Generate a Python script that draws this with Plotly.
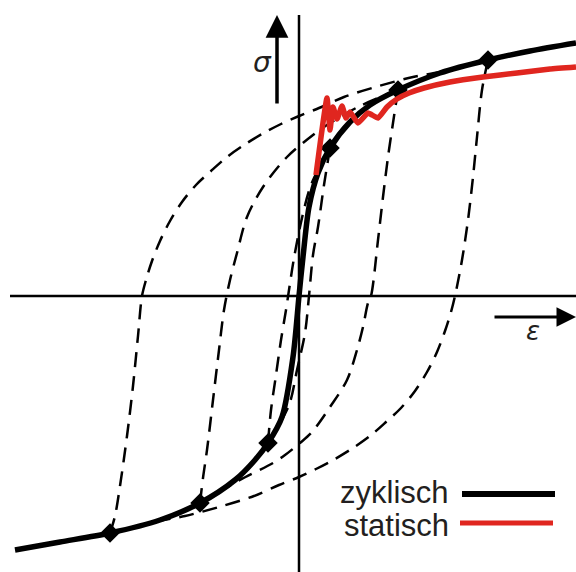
import plotly.graph_objects as go

# Cyclic stress-strain curve (strain eps, stress sigma; arbitrary units, origin at axis crossing)
cyc_eps = [-284, -239, -189, -139, -99, -64, -44, -31, -17, -6, 0, 4, 10, 19, 31, 51, 71, 99, 141, 189, 231, 277]
cyc_sig = [-254, -246, -237, -224, -207, -184, -164, -147, -121, -61, 0, 39, 89, 123, 148, 174, 191, 206, 223, 236, 245, 253]

# Monotonic (static) tensile curve with upper/lower yield point
stat_eps = [17, 28, 31, 34, 38, 43, 47, 51, 59, 69, 79, 88, 98, 110, 125, 151, 184, 218, 251, 277]
stat_sig = [121, 198, 166, 189, 177, 190, 178, 184, 173, 183, 178, 189, 197, 203, 208, 214, 219, 223, 227, 229]

# Stabilised hysteresis loops: tips, loading (up) and unloading (down) branches
tip_eps = [31, 99, 189, -31, -99, -189]
tip_sig = [148, 206, 236, -147, -207, -237]

loop1_up_eps = [-189, -184, -179, -172, -166, -161, -157, -153, -147, -139, -129, -117, -103, -88, -72, -55, -37, -18, 0, 20, 45, 80, 114, 141, 189]
loop1_up_sig = [-237, -220, -190, -140, -90, -40, 0, 16, 35, 55, 75, 94, 111, 125, 139, 151, 162, 172, 180, 188, 199, 210, 219, 224, 236]
loop1_dn_eps = [189, 183, 178, 174, 169, 163, 156, 152, 146, 138, 128, 116, 102, 87, 71, 54, 36, 17, 0, -20, -45, -80, -114, -141, -189]
loop1_dn_sig = [236, 206, 159, 119, 76, 36, 0, -16, -35, -56, -76, -95, -112, -126, -140, -152, -163, -173, -181, -189, -200, -211, -220, -225, -237]

loop2_up_eps = [-99, -96, -92, -86, -80, -75, -69, -62, -52, -36, -12, 14, 31, 61, 99]
loop2_up_sig = [-207, -182, -154, -104, -54, -14, 16, 43, 79, 109, 139, 161, 173, 190, 206]
loop2_dn_eps = [99, 94, 89, 84, 79, 72, 69, 64, 58, 48, 31, 13, 1, -14, -26, -59, -99]
loop2_dn_sig = [206, 173, 139, 99, 56, 0, -7, -31, -54, -84, -111, -136, -147, -159, -167, -184, -207]

loop3_up_eps = [-31, -28, -23, -18, -13, -10, -5, 3, 12, 31]
loop3_up_sig = [-147, -114, -79, -44, -14, 6, 38, 78, 111, 148]
loop3_dn_eps = [31, 25, 19, 14, 10, 6, -2, -10, -31]
loop3_dn_sig = [148, 111, 69, 41, 0, -37, -74, -109, -147]

legend_labels = ["zyklisch", "statisch"]

BLACK = "#000000"
RED = "#e0261f"
TEXT = "#231f20"
W, H = 576, 572

fig = go.Figure()

dash_style = dict(color=BLACK, width=2.5, dash="15px,9px", shape="spline", smoothing=0.9)
for ex, sy in [(loop1_up_eps, loop1_up_sig), (loop1_dn_eps, loop1_dn_sig),
               (loop2_up_eps, loop2_up_sig), (loop2_dn_eps, loop2_dn_sig),
               (loop3_up_eps, loop3_up_sig), (loop3_dn_eps, loop3_dn_sig)]:
    fig.add_trace(go.Scatter(x=ex, y=sy, mode="lines", line=dash_style,
                             hoverinfo="skip", showlegend=False))

fig.add_trace(go.Scatter(x=cyc_eps, y=cyc_sig, mode="lines",
                         line=dict(color=BLACK, width=5.5, shape="spline", smoothing=0.8),
                         showlegend=False))
fig.add_trace(go.Scatter(x=tip_eps, y=tip_sig, mode="markers",
                         marker=dict(symbol="diamond", size=15, color=BLACK),
                         showlegend=False))
fig.add_trace(go.Scatter(x=stat_eps, y=stat_sig, mode="lines",
                         line=dict(color=RED, width=5.5, shape="spline", smoothing=0.4),
                         showlegend=False))

# Coordinate axes through the origin
fig.add_shape(type="line", x0=0, x1=0, y0=-276, y1=281, line=dict(color=BLACK, width=2.5))
fig.add_shape(type="line", x0=-289, x1=277, y0=0, y1=0, line=dict(color=BLACK, width=2.5))

# Direction arrows with symbols
fig.add_annotation(x=-22, y=281, ax=-22, ay=191, xref="x", yref="y", axref="x", ayref="y",
                   text="", showarrow=True, arrowhead=2, arrowsize=1.3, arrowwidth=3.5, arrowcolor=BLACK)
fig.add_annotation(x=-37, y=234, xref="x", yref="y", text="<i>σ</i>", showarrow=False,
                   font=dict(family="DejaVu Sans", size=28, color=TEXT))
fig.add_annotation(x=277, y=-21, ax=194, ay=-21, xref="x", yref="y", axref="x", ayref="y",
                   text="", showarrow=True, arrowhead=2, arrowsize=1.3, arrowwidth=3, arrowcolor=BLACK)
fig.add_annotation(x=234, y=-35, xref="x", yref="y", text="<i>ε</i>", showarrow=False,
                   font=dict(family="DejaVu Sans", size=26, color=TEXT))

# Legend drawn as text with sample lines
for label, ypx in zip(legend_labels, [492, 525]):
    fig.add_annotation(x=451 / W, y=1 - ypx / H, xref="paper", yref="paper", text=label,
                       showarrow=False, xanchor="right", yanchor="middle",
                       font=dict(family="Liberation Sans", size=31, color=TEXT))

fig.add_shape(type="line", xref="paper", yref="paper", x0=462 / W, x1=555 / W,
              y0=1 - 494 / H, y1=1 - 494 / H, line=dict(color=BLACK, width=6))
fig.add_shape(type="line", xref="paper", yref="paper", x0=460 / W, x1=553 / W,
              y0=1 - 523 / H, y1=1 - 523 / H, line=dict(color=RED, width=5))

fig.update_layout(
    width=W, height=H,
    margin=dict(l=0, r=0, t=0, b=0),
    paper_bgcolor="white", plot_bgcolor="white",
    xaxis=dict(range=[-299, 277], visible=False, fixedrange=True),
    yaxis=dict(range=[-276, 296], visible=False, fixedrange=True),
)

fig.write_html("out.html")
